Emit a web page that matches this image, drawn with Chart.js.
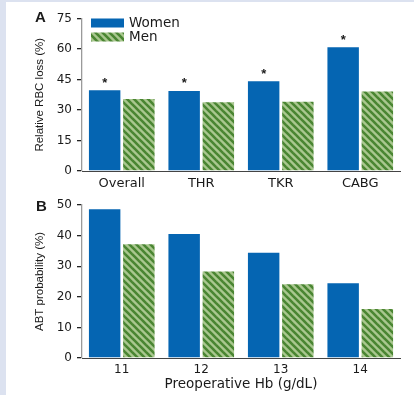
<!DOCTYPE html>
<html>
<head>
<meta charset="utf-8">
<script src="https://cdn.jsdelivr.net/npm/chart.js@4"></script>
<style>
  html, body { margin: 0; padding: 0; background: #fff; }
  #page { position: relative; width: 414px; height: 395px; overflow: hidden; background: #fff; }
  #strip-left { position: absolute; left: 0; top: 0; width: 6px; height: 395px; background: #dce2f0; }
  #strip-top { position: absolute; left: 0; top: 0; width: 414px; height: 2px; background: #dce2f0; }
  .panel { position: absolute; left: 0; width: 414px; }
  .panel canvas { display: block; }
  .tag { position: absolute; font: bold 15px "Liberation Sans", Arial, sans-serif; color: #1a1a1a; }
</style>
</head>
<body>
<div id="page">
  <div id="strip-left"></div>
  <div id="strip-top"></div>
  <div class="panel" style="top:0"><canvas id="chart-a" width="414" height="192"></canvas></div>
  <div class="panel" style="top:192px"><canvas id="chart-b" width="414" height="203"></canvas></div>
  <div class="tag" style="left:35px;top:8px">A</div>
  <div class="tag" style="left:36px;top:197px">B</div>
</div>
<script>
// panel A - relative RBC loss by procedure
const categoriesA = ['Overall', 'THR', 'TKR', 'CABG'];
const womenA = [39.7, 39.4, 44.1, 60.8];
const menA = [35.4, 33.8, 34.0, 39.1];
const starsA = [true, true, true, true];

// panel B - ABT probability by preoperative Hb
const categoriesB = ['11', '12', '13', '14'];
const womenB = [48.6, 40.5, 34.4, 24.4];
const menB = [37.2, 28.3, 24.1, 16.0];

const seriesNames = ['Women', 'Men'];

const BLUE = '#0565b2';
const numFont = { family: '"DejaVu Sans", sans-serif', size: 12 };
const catFont = { family: '"DejaVu Sans", sans-serif', size: 13 };

function makeHatch() {
    const c = document.createElement('canvas');
    c.width = 7; c.height = 7;
    const g = c.getContext('2d');
    g.fillStyle = '#a9c78f';
    g.fillRect(0, 0, 7, 7);
    g.strokeStyle = '#4a8632';
    g.lineWidth = 2.6;
    for (let k = -7; k <= 7; k += 7) {
        g.beginPath();
        g.moveTo(k - 1, -1);
        g.lineTo(k + 8, 8);
        g.stroke();
    }
    return g.createPattern(c, 'repeat');
}
const hatch = makeHatch();

// legend drawn inside the plot, top-left
const insideLegend = {
    id: 'insideLegend',
    afterDraw(chart, args, opts) {
        if (!opts.show) return;
        const ctx = chart.ctx;
        const area = chart.chartArea;
        ctx.save();
        chart.data.datasets.forEach((ds, i) => {
            const x = area.left + 9;
            const y = area.top + i * 14;
            ctx.fillStyle = ds.backgroundColor;
            ctx.fillRect(x, y, 33, 9);
            ctx.fillStyle = '#1a1a1a';
            ctx.font = '13.5px "DejaVu Sans", sans-serif';
            ctx.textBaseline = 'middle';
            ctx.textAlign = 'left';
            ctx.fillText(ds.label, x + 38, y + 5);
        });
        ctx.restore();
    }
};

// asterisks above significant women bars
const starMarks = {
    id: 'starMarks',
    afterDatasetsDraw(chart, args, opts) {
        if (!opts.flags) return;
        const meta = chart.getDatasetMeta(0);
        const ctx = chart.ctx;
        ctx.save();
        ctx.fillStyle = '#1a1a1a';
        ctx.font = 'bold 13px "Liberation Sans", sans-serif';
        ctx.textAlign = 'center';
        ctx.textBaseline = 'middle';
        meta.data.forEach((bar, i) => {
            if (opts.flags[i]) ctx.fillText('*', bar.x, bar.y - 7);
        });
        ctx.restore();
    }
};

function buildChart(canvasId, labels, women, men, cfg) {
    return new Chart(document.getElementById(canvasId), {
        type: 'bar',
        data: {
            labels: labels,
            datasets: [
                { label: seriesNames[0], data: women, backgroundColor: BLUE },
                { label: seriesNames[1], data: men, backgroundColor: hatch }
            ]
        },
        options: {
            responsive: false,
            animation: false,
            categoryPercentage: 0.86,
            barPercentage: 0.92,
            layout: { padding: { left: 33, right: 14, top: cfg.padTop, bottom: 0 } },
            scales: {
                x: {
                    afterFit: s => { s.height = cfg.xHeight; },
                    grid: { display: true, drawOnChartArea: false, drawTicks: false },
                    border: { display: true, color: '#444', width: 1 },
                    ticks: { color: '#1a1a1a', font: cfg.xFont, padding: 5 },
                    title: {
                        display: !!cfg.xTitle,
                        text: cfg.xTitle || '',
                        color: '#1a1a1a',
                        font: { family: '"DejaVu Sans", sans-serif', size: 13.5 },
                        padding: { top: 0, bottom: 2 }
                    }
                },
                y: {
                    min: 0,
                    max: cfg.yMax,
                    afterFit: s => { s.width = 49; },
                    grid: { display: true, drawOnChartArea: false, drawTicks: true, tickLength: 5, color: '#222', lineWidth: 1.3 },
                    border: { display: true, color: '#9a9a9a', width: 1.3 },
                    ticks: { stepSize: cfg.yStep, color: '#1a1a1a', font: numFont, padding: 5 },
                    title: {
                        display: true,
                        text: cfg.yTitle,
                        color: '#1a1a1a',
                        font: { family: '"Liberation Sans", Arial, sans-serif', size: 11.5 },
                        padding: { top: 0, bottom: 0 }
                    }
                }
            },
            plugins: {
                legend: { display: false },
                tooltip: { enabled: false },
                insideLegend: { show: cfg.legend },
                starMarks: { flags: cfg.stars }
            }
        },
        plugins: [insideLegend, starMarks]
    });
}

buildChart('chart-a', categoriesA, womenA, menA, {
    padTop: 18.5, xHeight: 21, yMax: 75, yStep: 15,
    yTitle: 'Relative RBC loss (%)', xFont: catFont,
    legend: true, stars: starsA
});

buildChart('chart-b', categoriesB, womenB, menB, {
    padTop: 13, xHeight: 37, yMax: 50, yStep: 10,
    yTitle: 'ABT probability (%)', xTitle: 'Preoperative Hb (g/dL)',
    xFont: { family: '"DejaVu Sans", sans-serif', size: 12 },
    legend: false, stars: null
});
</script>
</body>
</html>
